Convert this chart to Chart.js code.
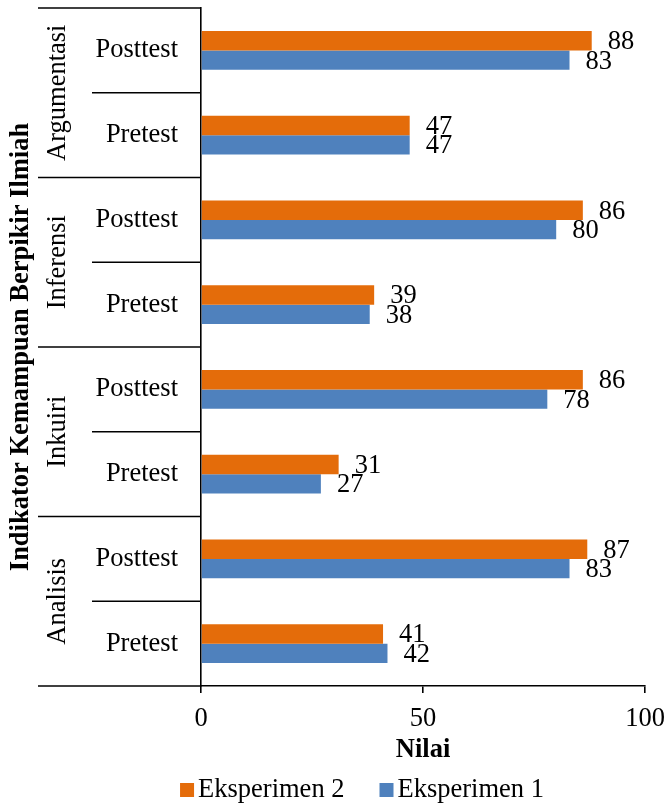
<!DOCTYPE html>
<html>
<head>
<meta charset="utf-8">
<script src="https://cdn.jsdelivr.net/npm/chart.js@4"></script>
<style>
  body { margin: 0; background: #fff; }
</style>
</head>
<body>
<canvas id="chart" width="671" height="804"></canvas>
<script>
const groups = ['Argumentasi', 'Inferensi', 'Inkuiri', 'Analisis'];
const phases = ['Posttest', 'Pretest'];
const eksperimen2 = [88, 47, 86, 39, 86, 31, 87, 41];
const eksperimen1 = [83, 47, 80, 38, 78, 27, 83, 42];
const xTicks = [0, 50, 100];

const labels = [];
groups.forEach(g => phases.forEach(p => labels.push(p)));

const serif = 'Liberation Serif';
const fs = 26.5;

// separators, group names and the rotated axis title on the left side
const leftAxis = {
  id: 'leftAxis',
  afterDraw(chart) {
    const ctx = chart.ctx;
    const y = chart.scales.y;
    const left = chart.chartArea.left;
    const edge = (i) => {
      if (i <= 0) return y.top;
      if (i >= labels.length) return y.bottom;
      return (y.getPixelForValue(i - 1) + y.getPixelForValue(i)) / 2;
    };
    ctx.save();
    ctx.strokeStyle = '#000';
    ctx.lineWidth = 1.6;
    for (let i = 0; i <= labels.length; i++) {
      const yy = edge(i);
      const x0 = i % phases.length === 0 ? left - 163 : left - 109;
      ctx.beginPath();
      ctx.moveTo(x0, yy);
      ctx.lineTo(left, yy);
      ctx.stroke();
    }
    ctx.fillStyle = '#000';
    ctx.textAlign = 'center';
    ctx.textBaseline = 'middle';
    ctx.font = fs + 'px "' + serif + '"';
    groups.forEach((g, gi) => {
      const top = edge(gi * phases.length);
      const bot = edge((gi + 1) * phases.length);
      ctx.save();
      ctx.translate(left - 143, (top + bot) / 2);
      ctx.rotate(-Math.PI / 2);
      ctx.fillText(g, 0, 0);
      ctx.restore();
    });
    ctx.font = 'bold ' + fs + 'px "' + serif + '"';
    ctx.save();
    ctx.translate(21, (y.top + y.bottom) / 2);
    ctx.rotate(-Math.PI / 2);
    ctx.fillText('Indikator Kemampuan Berpikir Ilmiah', 0, 0);
    ctx.restore();
    ctx.restore();
  }
};

// value labels to the right of each bar
const valueLabels = {
  id: 'valueLabels',
  afterDatasetsDraw(chart) {
    const ctx = chart.ctx;
    ctx.save();
    ctx.fillStyle = '#000';
    ctx.font = fs + 'px "' + serif + '"';
    ctx.textAlign = 'left';
    ctx.textBaseline = 'middle';
    chart.data.datasets.forEach((ds, di) => {
      chart.getDatasetMeta(di).data.forEach((bar, i) => {
        ctx.fillText(ds.data[i], bar.x + 16, bar.y + 1.5);
      });
    });
    ctx.restore();
  }
};

// legend with small square keys, tight gap between key and text
const bottomLegend = {
  id: 'bottomLegend',
  afterDraw(chart) {
    const ctx = chart.ctx;
    ctx.save();
    ctx.font = fs + 'px "' + serif + '"';
    ctx.textBaseline = 'middle';
    ctx.textAlign = 'left';
    const items = chart.data.datasets.map(ds => ({
      text: ds.label, color: ds.backgroundColor, w: 14 + 4 + ctx.measureText(ds.label).width
    }));
    const gap = 35;
    const total = items.reduce((s, it) => s + it.w, 0) + gap * (items.length - 1);
    let x = 362 - total / 2;
    const cy = 790;
    items.forEach(it => {
      ctx.fillStyle = it.color;
      ctx.fillRect(x, cy - 7, 14, 14);
      ctx.fillStyle = '#000';
      ctx.fillText(it.text, x + 18, cy);
      x += it.w + gap;
    });
    ctx.restore();
  }
};

new Chart(document.getElementById('chart'), {
  type: 'bar',
  data: {
    labels: labels,
    datasets: [
      { label: 'Eksperimen 2', data: eksperimen2, backgroundColor: '#E46C0A' },
      { label: 'Eksperimen 1', data: eksperimen1, backgroundColor: '#4F81BD' }
    ]
  },
  options: {
    indexAxis: 'y',
    responsive: false,
    animation: false,
    devicePixelRatio: 1,
    layout: { padding: { top: 8, right: 26, left: 0, bottom: 36 } },
    datasets: {
      bar: { categoryPercentage: 0.46, barPercentage: 1 }
    },
    scales: {
      x: {
        min: 0,
        max: 100,
        afterBuildTicks: scale => { scale.ticks = xTicks.map(v => ({ value: v })); },
        afterFit: scale => {
          scale.height = 804 - 686 - 36;
          scale.paddingLeft = 0;
          scale.paddingRight = 0;
        },
        grid: { drawOnChartArea: false, color: '#000', tickLength: 7, lineWidth: 1.6 },
        border: { color: '#000', width: 1.6 },
        ticks: { color: '#000', font: { family: serif, size: fs }, padding: 10, maxRotation: 0 },
        title: {
          display: true,
          text: 'Nilai',
          color: '#000',
          font: { family: serif, size: fs, weight: 'bold' },
          padding: { top: 0, bottom: 2 }
        }
      },
      y: {
        afterFit: scale => {
          scale.width = 201;
          scale.paddingTop = 0;
          scale.paddingBottom = 0;
        },
        grid: { drawOnChartArea: false, drawTicks: false },
        border: { color: '#000', width: 1.6 },
        ticks: { color: '#000', font: { family: serif, size: fs }, padding: 23 }
      }
    },
    plugins: {
      legend: { display: false },
      tooltip: { enabled: false }
    }
  },
  plugins: [leftAxis, valueLabels, bottomLegend]
});
</script>
</body>
</html>
